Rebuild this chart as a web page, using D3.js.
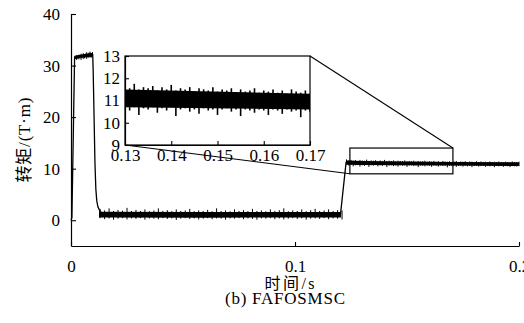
<!DOCTYPE html>
<html>
<head>
<meta charset="utf-8">
<script src="https://cdn.jsdelivr.net/npm/d3@7"></script>
<style>
  body { margin: 0; background: #fff; }
  svg { display: block; }
</style>
</head>
<body>
<svg id="chart" width="524" height="323"></svg>
<script>
const SERIF = '"Liberation Serif", "Times New Roman", Times, "DejaVu Serif", serif';
const MIXED = '"Liberation Serif", "Times New Roman", Times, "DejaVu Serif", "Noto Sans CJK SC", serif';

// skeleton of the torque trace (time s, torque T·m)
const mainT = [0, 0.0004, 0.0016, 0.0097, 0.0099, 0.0103, 0.0107, 0.0111, 0.0115, 0.012, 0.013, 0.015, 0.1203, 0.1228, 0.1235, 0.16, 0.2];
const mainV = [0, 0.5, 31.5, 32.1, 29, 20, 11, 6, 3.8, 2.6, 1.7, 1.1, 1.1, 11.2, 11.2, 11.0, 10.9];

// dense core of the noise on each level
const platCoreT = [0.0016, 0.004, 0.0096];
const platCoreHi = [31.9, 32.1, 32.5];
const platCoreLo = [31.3, 31.5, 31.7];
const lowCoreT = [0.0125, 0.06, 0.1205];
const lowCoreHi = [1.65, 1.6, 1.6];
const lowCoreLo = [0.55, 0.5, 0.55];
const highCoreT = [0.1232, 0.13, 0.17, 0.2];
const highCoreHi = [11.6, 11.5, 11.3, 11.25];
const highCoreLo = [10.75, 10.7, 10.6, 10.5];

// spikes on the start-up plateau
const platT = [0.0016, 0.002, 0.0025, 0.003, 0.0035, 0.004, 0.0045, 0.005, 0.0055, 0.006, 0.0065, 0.007, 0.0075, 0.008, 0.0085, 0.009, 0.0096];
const platHi = [31.8, 31.8, 32.0, 31.9, 32.1, 32.0, 32.3, 32.0, 32.4, 32.1, 32.3, 32.6, 32.2, 32.5, 32.7, 32.3, 32.6];
const platLo = [31.3, 31.3, 31.1, 31.3, 31.2, 31.4, 31.1, 31.5, 31.3, 31.4, 31.6, 31.3, 31.6, 31.5, 31.7, 31.5, 31.8];

// spikes on the low level, every 2 ms from 0.013 s
const lowStart = 0.013, lowStep = 0.002;
const lowHi = [2.2, 1.9, 2.3, 1.8, 2.0, 1.85, 2.4, 1.8, 2.0, 1.8,
  2.1, 1.75, 1.9, 2.3, 1.8, 1.95, 1.75, 2.1, 1.8, 1.9,
  2.2, 1.75, 1.9, 1.8, 2.0, 1.75, 2.3, 1.8, 1.9, 1.75,
  2.1, 1.8, 1.95, 1.75, 2.2, 1.8, 1.9, 1.75, 2.1, 1.8,
  1.95, 2.3, 1.75, 1.9, 1.8, 2.1, 1.75, 1.95, 2.2, 1.8,
  1.9, 2.1, 1.8, 1.95, 1.9];
const lowLo = [0.4, 0.2, 0.35, 0.1, 0.3, 0.4, 0.15, 0.35, 0.25, 0.4,
  0.1, 0.35, 0.3, 0.2, 0.4, 0.25, 0.35, 0.05, 0.3, 0.4,
  0.25, 0.35, 0.15, 0.3, 0.4, 0.2, 0.35, 0.3, 0.1, 0.35,
  0.3, 0.4, 0.2, 0.35, 0.25, 0.1, 0.35, 0.3, 0.4, 0.2,
  0.35, 0.15, 0.3, 0.4, 0.25, 0.35, 0.1, 0.3, 0.35, 0.25,
  0.4, 0.2, 0.35, 0.3, 0.15];

// spikes on the loaded level, every 1 ms from 0.123 s
const highStart = 0.123, highStep = 0.001;
const highHi = [11.8, 11.6, 11.7, 11.55, 11.65, 11.5, 11.7, 11.6, 11.55, 11.75,
  11.5, 11.6, 11.55, 11.65, 11.45, 11.6, 11.5, 11.7, 11.45, 11.55,
  11.5, 11.6, 11.4, 11.55, 11.5, 11.45, 11.6, 11.4, 11.5, 11.45,
  11.55, 11.35, 11.5, 11.4, 11.45, 11.55, 11.35, 11.45, 11.4, 11.5,
  11.35, 11.45, 11.3, 11.5, 11.4, 11.35, 11.45, 11.3, 11.4, 11.5,
  11.3, 11.4, 11.35, 11.45, 11.3, 11.4, 11.35, 11.25, 11.45, 11.3,
  11.4, 11.3, 11.35, 11.25, 11.4, 11.3, 11.35, 11.25, 11.4, 11.3,
  11.2, 11.35, 11.3, 11.25, 11.4, 11.3, 11.25, 11.35];
const highLo = [10.75, 10.6, 10.7, 10.45, 10.65, 10.7, 10.4, 10.65, 10.55, 10.7,
  10.35, 10.65, 10.6, 10.7, 10.45, 10.65, 10.55, 10.7, 10.3, 10.6,
  10.65, 10.5, 10.6, 10.4, 10.65, 10.55, 10.6, 10.35, 10.6, 10.65,
  10.5, 10.6, 10.3, 10.6, 10.55, 10.45, 10.6, 10.55, 10.35, 10.6,
  10.55, 10.4, 10.6, 10.5, 10.55, 10.25, 10.55, 10.5, 10.6, 10.35,
  10.55, 10.5, 10.4, 10.55, 10.45, 10.55, 10.3, 10.5, 10.55, 10.4,
  10.5, 10.55, 10.35, 10.5, 10.45, 10.55, 10.3, 10.5, 10.45, 10.5,
  10.35, 10.5, 10.45, 10.3, 10.5, 10.45, 10.4, 10.5];

const xTicks = [0, 0.1, 0.2];
const yTicks = [0, 10, 20, 30, 40];
const insetXTicks = [0.13, 0.14, 0.15, 0.16, 0.17];
const insetYTicks = [9, 10, 11, 12, 13];
const zoomT = [0.1245, 0.1705];
const zoomV = [9, 14];

const svg = d3.select('#chart');

const x = d3.scaleLinear().domain([0, 0.2]).range([71, 519]);
const y = d3.scaleLinear().domain([-5, 40]).range([246, 14]);
const ix = d3.scaleLinear().domain([0.13, 0.17]).range([125, 310]);
const iy = d3.scaleLinear().domain([9, 13]).range([145, 56]);

const skeleton = mainT.map((t, i) => ({ t, v: mainV[i] }));
const cores = [
  platCoreT.map((t, i) => ({ t, hi: platCoreHi[i], lo: platCoreLo[i] })),
  lowCoreT.map((t, i) => ({ t, hi: lowCoreHi[i], lo: lowCoreLo[i] })),
  highCoreT.map((t, i) => ({ t, hi: highCoreHi[i], lo: highCoreLo[i] }))
];
const spikes = [].concat(
  platT.map((t, i) => ({ t, hi: platHi[i], lo: platLo[i] })),
  lowHi.map((h, i) => ({ t: lowStart + lowStep * i, hi: h, lo: lowLo[i] })),
  highHi.map((h, i) => ({ t: highStart + highStep * i, hi: h, lo: highLo[i] }))
);

function styleAxis(g) {
  g.attr('font-family', SERIF).attr('font-size', 17);
  g.select('.domain').attr('stroke', '#000').attr('stroke-width', 1.2);
  g.selectAll('.tick line').attr('stroke', '#000').attr('stroke-width', 1.1);
  g.selectAll('.tick text').attr('fill', '#000');
}

// main axes
svg.append('g')
  .attr('transform', 'translate(71,0)')
  .call(d3.axisLeft(y).tickValues(yTicks).tickSizeInner(-5).tickSizeOuter(0).tickPadding(11).tickFormat(d3.format('d')))
  .call(styleAxis);

svg.append('g')
  .attr('transform', 'translate(0,246)')
  .call(d3.axisBottom(x).tickValues(xTicks).tickSizeInner(-4).tickSizeOuter(0).tickPadding(14).tickFormat(d => d))
  .call(styleAxis);

function drawTrace(g, sx, sy, spikeWidth) {
  const area = d3.area().x(d => sx(d.t)).y0(d => sy(d.lo)).y1(d => sy(d.hi));
  g.selectAll('path.core')
    .data(cores)
    .join('path')
    .attr('class', 'core')
    .attr('d', area)
    .attr('fill', '#000');
  g.selectAll('line.spike')
    .data(spikes)
    .join('line')
    .attr('class', 'spike')
    .attr('x1', d => sx(d.t)).attr('x2', d => sx(d.t))
    .attr('y1', d => sy(d.lo)).attr('y2', d => sy(d.hi))
    .attr('stroke', '#000')
    .attr('stroke-width', spikeWidth);
  g.append('path')
    .attr('d', d3.line().x(d => sx(d.t)).y(d => sy(d.v))(skeleton))
    .attr('fill', 'none')
    .attr('stroke', '#000')
    .attr('stroke-width', 1.3);
}

drawTrace(svg.append('g'), x, y, 1);

// zoom window on the main trace
svg.append('rect')
  .attr('x', x(zoomT[0]))
  .attr('y', y(zoomV[1]))
  .attr('width', x(zoomT[1]) - x(zoomT[0]))
  .attr('height', y(zoomV[0]) - y(zoomV[1]))
  .attr('fill', 'none')
  .attr('stroke', '#000')
  .attr('stroke-width', 1.2);

// connector lines
const connectors = [
  [[ix.range()[1], iy.range()[1]], [x(zoomT[1]), y(zoomV[1])]],
  [[ix.range()[0], iy.range()[0]], [x(zoomT[0]), y(zoomV[0])]]
];
svg.append('g').selectAll('line')
  .data(connectors)
  .join('line')
  .attr('x1', d => d[0][0]).attr('y1', d => d[0][1])
  .attr('x2', d => d[1][0]).attr('y2', d => d[1][1])
  .attr('stroke', '#000')
  .attr('stroke-width', 1.1);

// inset
svg.append('clipPath').attr('id', 'inset-clip')
  .append('rect')
  .attr('x', ix.range()[0]).attr('y', iy.range()[1])
  .attr('width', ix.range()[1] - ix.range()[0])
  .attr('height', iy.range()[0] - iy.range()[1]);

drawTrace(svg.append('g').attr('clip-path', 'url(#inset-clip)'), ix, iy, 1.6);

svg.append('g')
  .attr('transform', `translate(${ix.range()[0]},0)`)
  .call(d3.axisLeft(iy).tickValues(insetYTicks).tickSizeInner(-4).tickSizeOuter(0).tickPadding(5).tickFormat(d3.format('d')))
  .call(styleAxis);

svg.append('g')
  .attr('transform', `translate(0,${iy.range()[0]})`)
  .call(d3.axisBottom(ix).tickValues(insetXTicks).tickSizeInner(-4).tickSizeOuter(0).tickPadding(4).tickFormat(d3.format('.2f')))
  .call(styleAxis);

svg.append('rect')
  .attr('x', ix.range()[0]).attr('y', iy.range()[1])
  .attr('width', ix.range()[1] - ix.range()[0])
  .attr('height', iy.range()[0] - iy.range()[1])
  .attr('fill', 'none')
  .attr('stroke', '#000')
  .attr('stroke-width', 1.2);

// labels
svg.append('text')
  .attr('transform', 'translate(30,140) rotate(-90)')
  .attr('text-anchor', 'middle')
  .attr('font-family', MIXED)
  .attr('font-size', 17)
  .attr('textLength', 85)
  .attr('lengthAdjust', 'spacing')
  .text('转矩/(T·m)');

svg.append('text')
  .attr('x', 289.5).attr('y', 289)
  .attr('text-anchor', 'middle')
  .attr('font-family', MIXED)
  .attr('font-size', 16)
  .attr('textLength', 50)
  .attr('lengthAdjust', 'spacing')
  .text('时间/s');

svg.append('text')
  .attr('x', 285).attr('y', 304)
  .attr('text-anchor', 'middle')
  .attr('font-family', SERIF)
  .attr('font-size', 17)
  .attr('textLength', 120)
  .attr('lengthAdjust', 'spacing')
  .text('(b) FAFOSMSC');
</script>
</body>
</html>
